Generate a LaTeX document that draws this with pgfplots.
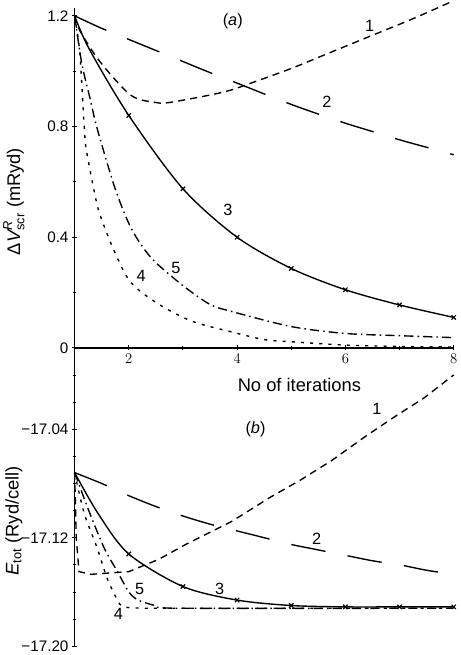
\documentclass[border=0pt]{standalone}
\usepackage{fontspec}
\setmainfont{Liberation Sans}
\usepackage{amsmath}
\usepackage{pgfplots}
\pgfplotsset{compat=1.18}

\pgfplotsset{
  panel/.style={
    scale only axis, width=371bp, xmin=1, xmax=8, clip=false,
    axis line style={line width=1.4pt, -},
    tick style={line width=0.9pt, black},
    major tick length=5bp, minor tick length=3.5bp, tick align=center,
    tick label style={font=\fontsize{15}{18}\selectfont},
    label style={font=\fontsize{18}{20}\selectfont},
    every axis plot/.append style={line width=1.35pt, black},
  },
  c1/.style={dash pattern=on 7bp off 5bp},
  c2/.style={dash pattern=on 34bp off 22bp},
  c4/.style={dash pattern=on 3bp off 6bp},
  c5/.style={dash pattern=on 9bp off 4bp on 1.5bp off 4bp},
}

\begin{document}
\begin{tikzpicture}[font=\fontsize{16}{18}\selectfont]
% (a) screening potential
\begin{axis}[panel, name=top, height=333bp,
    ymin=0, ymax=1.23,
    axis x line*=bottom, axis y line*=left,
    xtick={2,4,6,8}, minor xtick={3,5,7},
    ytick={0,0.4,0.8,1.2}, yticklabels={0,0.4,0.8,1.2},
    minor ytick={0.2,0.6,1.0},
    ylabel={$\text{Δ}\textit{V}^{\text{\itshape R}}_{\text{scr}}$ (mRyd)},
    ylabel style={at={(axis description cs:-0.16,0.43)}, anchor=center},
]
\addplot[c1, smooth, tension=0.5] coordinates {
  (1,1.2) (1.1,1.145) (1.47,1.034) (2.04,0.913) (2.5,0.887) (2.75,0.887)
  (3.45,0.912) (3.87,0.931) (4.3,0.96) (5.0,1.01) (5.75,1.07) (6.5,1.13)
  (7.25,1.19) (8,1.255)};
\addplot[c2, smooth] coordinates {
  (1,1.2) (1.5,1.155) (2,1.115) (2.5,1.075) (3,1.035) (3.5,0.995) (4,0.957)
  (4.5,0.918) (5,0.88) (5.5,0.845) (6,0.812) (6.5,0.782) (7,0.752)
  (7.5,0.725) (8,0.698)};
\addplot[solid, smooth, mark=x, mark size=3bp, mark indices={3,...,9},
  mark options={line width=1.1pt}] coordinates {
  (1,1.2) (1.27,1.08) (2,0.84) (3,0.575) (4,0.40) (5,0.287) (6,0.21)
  (7,0.155) (8,0.11)};
\addplot[c4, smooth, tension=0.5] coordinates {
  (1,1.2) (1.09,1.08) (1.13,0.96) (1.19,0.76) (1.23,0.70) (1.36,0.567)
  (1.47,0.48) (1.74,0.346) (2.04,0.236) (2.55,0.158) (3.17,0.096)
  (3.87,0.059) (4.5,0.03) (5,0.022) (6,0.01) (7,0.005) (8,0.003)};
\addplot[c5, smooth, tension=0.5] coordinates {
  (1,1.2) (1.13,1.03) (1.28,0.905) (1.42,0.79) (1.74,0.58) (2,0.45)
  (2.23,0.372) (2.49,0.31) (3,0.225) (3.49,0.158) (3.87,0.133) (5,0.077)
  (6,0.052) (7,0.044) (8,0.037)};
\node at (axis cs:3.92,1.18) {(\textit{a})};
\node at (axis cs:6.45,1.165) {1};
\node at (axis cs:5.66,0.89) {2};
\node at (axis cs:3.83,0.50) {3};
\node at (axis cs:2.23,0.26) {4};
\node at (axis cs:2.87,0.29) {5};
\node[font=\fontsize{18}{20}\selectfont] at (axis cs:5.15,-0.135) {No of iterations};
\end{axis}
% (b) total energy
\begin{axis}[panel, at={(top.south west)}, anchor=north west, height=292bp,
    ymin=-17.20, ymax=-16.98,
    axis y line*=left, axis x line=none,
    ytick={-17.20,-17.12,-17.04}, yticklabels={−17.20,−17.12,−17.04},
    minor ytick={-17.18,-17.16,-17.14,-17.10,-17.08,-17.06,-17.02,-17.00},
    ylabel={\textit{E}$_{\text{tot}}$ (Ryd/cell)},
    ylabel style={at={(axis description cs:-0.16,0.42)}, anchor=center},
]
\addplot[c1] coordinates {
  (1,-17.072) (1.03,-17.12) (1.08,-17.145) (1.3,-17.147) (2,-17.145)
  (2.55,-17.136) (3.05,-17.125) (3.55,-17.115) (3.9,-17.108) (4.62,-17.09)
  (5.19,-17.077) (5.75,-17.063) (6.38,-17.045) (6.94,-17.03) (7.45,-17.017)
  (8,-17.0)};
\addplot[c2, smooth] coordinates {
  (1,-17.072) (1.5,-17.080) (2,-17.089) (2.5,-17.097) (3,-17.104)
  (3.5,-17.110) (4,-17.115) (4.5,-17.120) (5,-17.125) (5.5,-17.129)
  (6,-17.133) (6.5,-17.137) (7,-17.140) (7.5,-17.144) (8,-17.147)};
\addplot[solid, smooth, mark=x, mark size=3bp, mark indices={3,...,9},
  mark options={line width=1.1pt}] coordinates {
  (1,-17.072) (1.43,-17.102) (2,-17.132) (3,-17.156) (4,-17.166)
  (5,-17.170) (6,-17.171) (7,-17.171) (8,-17.171)};
\addplot[c4, smooth, tension=0.4] coordinates {
  (1,-17.072) (1.1,-17.09) (1.2,-17.105) (1.42,-17.128) (1.6,-17.15)
  (1.79,-17.166) (1.9,-17.171) (2.3,-17.172) (3,-17.172) (8,-17.172)};
\addplot[c5, smooth, tension=0.4] coordinates {
  (1,-17.072) (1.28,-17.102) (1.55,-17.128) (1.79,-17.145) (2,-17.16)
  (2.17,-17.166) (2.49,-17.17) (2.93,-17.172) (8,-17.172)};
\node at (axis cs:4.34,-17.04) {(\textit{b})};
\node at (axis cs:6.58,-17.025) {1};
\node at (axis cs:5.47,-17.121) {2};
\node at (axis cs:3.68,-17.158) {3};
\node at (axis cs:1.81,-17.176) {4};
\node at (axis cs:2.2,-17.158) {5};
\end{axis}
\end{tikzpicture}
\end{document}
